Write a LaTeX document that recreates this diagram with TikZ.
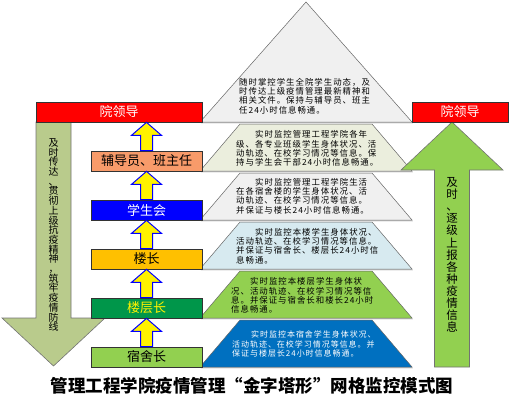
\documentclass[tikz,border=0pt]{standalone}
\usepackage{fontspec}
\setmainfont{Noto Sans CJK SC}
\newfontfamily\lyrfont[LetterSpace=12]{Noto Sans CJK SC}
\usetikzlibrary{calc,shadows}
\definecolor{lgray}{HTML}{F0F0F0}
\definecolor{lgreen}{HTML}{EBEEDD}
\definecolor{lblue}{HTML}{D7EAF0}
\definecolor{grass}{HTML}{92D050}
\definecolor{ocean}{HTML}{0070C0}
\definecolor{rolered}{HTML}{FF0000}
\definecolor{salmon}{HTML}{F89B6A}
\definecolor{amber}{HTML}{FFC000}
\definecolor{forest}{HTML}{00964A}
\definecolor{olive}{HTML}{B9CB8C}
\newcommand\lvlarrow[2]{%
  \draw[yarr] let \p1=(#1.north), \p2=(#2.south) in
    (\x1-6pt,\y1) -- (\x1-6pt,\y2-13pt) -- (\x1-15pt,\y2-13pt) -- (\x1,\y2)
    -- (\x1+15pt,\y2-13pt) -- (\x1+6pt,\y2-13pt) -- (\x1+6pt,\y1) -- cycle;}
\begin{document}
\begin{tikzpicture}[x=1pt,y=-1pt,
  lyr/.style={draw=black!60,line width=0.5pt,drop shadow={shadow xshift=0.8pt,shadow yshift=-1.3pt,fill=black!40}},
  role/.style={draw=black!80,line width=0.7pt,minimum width=111pt,minimum height=20pt,inner sep=0pt,font=\fontsize{13}{13}\selectfont},
  note/.style={anchor=west,align=left,inner sep=0pt,font=\lyrfont\fontsize{8.4}{9.3}\selectfont},
  yarr/.style={fill=yellow,draw=blue,line width=1pt,line join=miter},
  bigarr/.style={draw=black!55,line width=0.6pt},
  vtxt/.style={align=center,inner sep=0pt}]
  \useasboundingbox (0,0) rectangle (510,404);
  \filldraw[lyr,fill=lgray] (306,2) -- (412,122) -- (200,122) -- cycle;
  \filldraw[lyr,fill=lgreen] (240,124) -- (372,124) -- (412,171) -- (200,171) -- cycle;
  \filldraw[lyr,fill=lgray] (240,173) -- (372,173) -- (412,220) -- (200,220) -- cycle;
  \filldraw[lyr,fill=lblue] (240,222) -- (372,222) -- (412,269) -- (200,269) -- cycle;
  \filldraw[lyr,fill=grass] (240,271) -- (372,271) -- (412,318) -- (200,318) -- cycle;
  \filldraw[lyr,fill=ocean] (240,320) -- (372,320) -- (412,367) -- (200,367) -- cycle;
  \node[note] (tx1) at (239,96){随时掌控学生全院学生动态，及\\时传达上级疫情管理最新精神和\\相关文件。保持与辅导员、班主\\任24小时信息畅通。};
  \node[note] (tx2) at (236,148.5){\hspace*{19pt}实时监控管理工程学院各年\\级、各专业班级学生身体状况、活\\动轨迹、在校学习情况等信息。保\\持与学生会干部24小时信息畅通。};
  \node[note] (tx3) at (236,196){\hspace*{19pt}实时监控管理工程学院生活\\在各宿舍楼的学生身体状况、活\\动轨迹、在校学习情况等信息。\\并保证与楼长24小时信息畅通。};
  \node[note] (tx4) at (236,246){\hspace*{19pt}实时监控本楼学生身体状况、\\活动轨迹、在校学习情况等信息。\\并保证与宿舍长、楼层长24小时信\\息畅通。};
  \node[note] (tx5) at (231,295.5){\hspace*{19pt}实时监控本楼层学生身体状\\况、活动轨迹、在校学习情况等信\\息。并保证与宿舍长和楼长24小时\\信息畅通。};
  \node[note,text=white,font=\lyrfont\fontsize{8}{9.2}\selectfont] (tx6) at (232,344){\hspace*{19pt}实时监控本宿舍学生身体状况、\\活动轨迹、在校学习情况等信息。并\\保证与楼层长24小时信息畅通。};
  \filldraw[bigarr,fill=olive] (36,122) -- (71,122) -- (71,318) -- (105,318) -- (53.5,366) -- (2,318) -- (36,318) -- cycle;
  \filldraw[bigarr,fill=grass] (434.5,367) -- (434.5,170) -- (401,170) -- (452,122) -- (503,170) -- (469.5,170) -- (469.5,367) -- cycle;
  \node[role,fill=rolered,text=white,minimum width=166pt] (yld) at (119,112){院领导};
  \node[role,fill=salmon] (fdy) at (146.5,161){辅导员、班主任};
  \node[role,fill=blue,text=white] (xsh) at (146.5,210){学生会};
  \node[role,fill=amber] (lz) at (146.5,259){楼长};
  \node[role,fill=forest,text=yellow] (lcz) at (146.5,308){楼层长};
  \node[role,fill=grass] (ssz) at (146.5,357){宿舍长};
  \node[role,fill=rolered,text=white,minimum width=96pt] (yld2) at (460,112){院领导};
  \lvlarrow{ssz}{lcz}
  \lvlarrow{lcz}{lz}
  \lvlarrow{lz}{xsh}
  \lvlarrow{xsh}{fdy}
  \lvlarrow{fdy}{yld}
  \node[vtxt,font=\fontsize{10}{9.7}\selectfont] (down) at (53.5,235){及\\时\\传\\达\\、\\贯\\彻\\上\\级\\抗\\疫\\精\\神\\，\\筑\\牢\\疫\\情\\防\\线};
  \node[vtxt,font=\fontsize{11.5}{12.1}\selectfont] (up) at (452,255){及\\时\\、\\逐\\级\\上\\报\\各\\种\\疫\\情\\信\\息};
  \node[font=\bfseries\fontsize{17.5}{18}\selectfont] (title) at (252,386){管理工程学院疫情管理“金字塔形”网格监控模式图};
\end{tikzpicture}
\end{document}
